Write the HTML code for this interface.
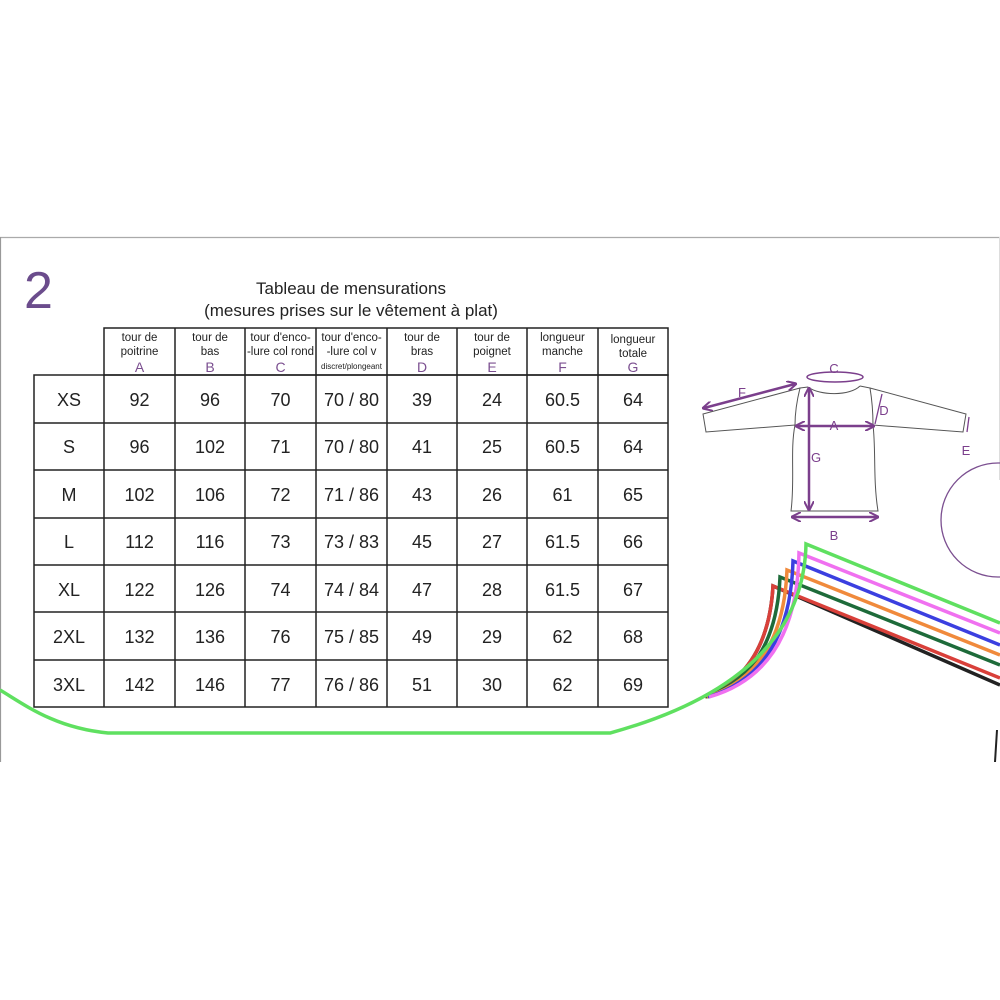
<!DOCTYPE html>
<html><head><meta charset="utf-8"><style>
html,body{margin:0;padding:0;background:#fff;}
svg{display:block;}
text{font-family:"Liberation Sans",sans-serif;}
</style></head><body>
<svg width="1000" height="1000" viewBox="0 0 1000 1000" xmlns="http://www.w3.org/2000/svg">
<defs>
<marker id="ah" viewBox="0 0 10 10" refX="8" refY="5" markerWidth="4" markerHeight="4" orient="auto-start-reverse"><path d="M0,0 L10,5 L0,10" fill="none" stroke="#7b3f8c" stroke-width="2"/></marker>
</defs>
<rect width="1000" height="1000" fill="#fff"/>
<line x1="0" y1="237.5" x2="1000" y2="237.5" stroke="#aaa" stroke-width="1.2"/>
<line x1="0.5" y1="237" x2="0.5" y2="762" stroke="#999" stroke-width="1.2"/>
<line x1="999.5" y1="237" x2="999.5" y2="480" stroke="#ddd" stroke-width="1"/>

<text x="24" y="308" font-size="52" fill="#6b4c8c">2</text>
<text x="351" y="294" font-size="17" fill="#222" text-anchor="middle">Tableau de mensurations</text>
<text x="351" y="316" font-size="17" fill="#222" text-anchor="middle">(mesures prises sur le vêtement à plat)</text>

<g fill="none" stroke-width="3.5">
<path d="M1000,685 L773,586 Q768,672 705,697" stroke="#222"/>
<path d="M1000,678 L773,586 Q768,672 705,697" stroke="#d9403a"/>
<path d="M1000,665 L780,577 Q776,672 706,697" stroke="#1e6b3a"/>
<path d="M1000,655 L787,570 Q783,672 707,697" stroke="#f08a3c"/>
<path d="M1000,645 L793,561 Q790,672 708,697" stroke="#3b3fe0"/>
<path d="M1000,633 L799,553 Q797,672 709,697" stroke="#f070f0"/>
<path d="M0,690 C25,705 55,728 108,733 L610,733 Q803,680 806,544 L1000,623" stroke="#5fe060"/>
</g>
<line x1="997" y1="730" x2="995" y2="762" stroke="#222" stroke-width="2"/>

<circle cx="998" cy="520" r="57" fill="none" stroke="#7b4f90" stroke-width="1.3"/>

<g stroke="#222" stroke-width="1.5" fill="none">
<rect x="104" y="328" width="564" height="47"/>
<rect x="34" y="375" width="634" height="332"/>
<g>
<line x1="175" y1="328" x2="175" y2="707"/><line x1="245" y1="328" x2="245" y2="707"/>
<line x1="316" y1="328" x2="316" y2="707"/><line x1="387" y1="328" x2="387" y2="707"/>
<line x1="457" y1="328" x2="457" y2="707"/><line x1="527" y1="328" x2="527" y2="707"/>
<line x1="598" y1="328" x2="598" y2="707"/><line x1="104" y1="375" x2="104" y2="707"/>
<line x1="34" y1="423" x2="668" y2="423"/><line x1="34" y1="470" x2="668" y2="470"/>
<line x1="34" y1="518" x2="668" y2="518"/><line x1="34" y1="565" x2="668" y2="565"/>
<line x1="34" y1="612" x2="668" y2="612"/><line x1="34" y1="660" x2="668" y2="660"/>
</g></g>
<g font-size="11.5" fill="#222" text-anchor="middle">
<text x="139.5" y="341">tour de</text><text x="139.5" y="355">poitrine</text>
<text x="210" y="341">tour de</text><text x="210" y="355">bas</text>
<text x="280.5" y="341">tour d'enco-</text><text x="280.5" y="355">-lure col rond</text>
<text x="351.5" y="341">tour d'enco-</text><text x="351.5" y="355">-lure col v</text>
<text x="351.5" y="369" font-size="8">discret/plongeant</text>
<text x="422" y="341">tour de</text><text x="422" y="355">bras</text>
<text x="492" y="341">tour de</text><text x="492" y="355">poignet</text>
<text x="562.5" y="341">longueur</text><text x="562.5" y="355">manche</text>
<text x="633" y="343">longueur</text><text x="633" y="357">totale</text>
</g>
<g font-size="14" fill="#7b4f90" text-anchor="middle">
<text x="139.5" y="372">A</text><text x="210" y="372">B</text><text x="280.5" y="372">C</text>
<text x="422" y="372">D</text><text x="492" y="372">E</text><text x="562.5" y="372">F</text><text x="633" y="372">G</text>
</g>
<g font-size="18" fill="#222" text-anchor="middle">
<text y="406"><tspan x="69">XS</tspan><tspan x="139.5">92</tspan><tspan x="210">96</tspan><tspan x="280.5">70</tspan><tspan x="351.5">70 / 80</tspan><tspan x="422">39</tspan><tspan x="492">24</tspan><tspan x="562.5">60.5</tspan><tspan x="633">64</tspan></text>
<text y="453"><tspan x="69">S</tspan><tspan x="139.5">96</tspan><tspan x="210">102</tspan><tspan x="280.5">71</tspan><tspan x="351.5">70 / 80</tspan><tspan x="422">41</tspan><tspan x="492">25</tspan><tspan x="562.5">60.5</tspan><tspan x="633">64</tspan></text>
<text y="501"><tspan x="69">M</tspan><tspan x="139.5">102</tspan><tspan x="210">106</tspan><tspan x="280.5">72</tspan><tspan x="351.5">71 / 86</tspan><tspan x="422">43</tspan><tspan x="492">26</tspan><tspan x="562.5">61</tspan><tspan x="633">65</tspan></text>
<text y="548"><tspan x="69">L</tspan><tspan x="139.5">112</tspan><tspan x="210">116</tspan><tspan x="280.5">73</tspan><tspan x="351.5">73 / 83</tspan><tspan x="422">45</tspan><tspan x="492">27</tspan><tspan x="562.5">61.5</tspan><tspan x="633">66</tspan></text>
<text y="596"><tspan x="69">XL</tspan><tspan x="139.5">122</tspan><tspan x="210">126</tspan><tspan x="280.5">74</tspan><tspan x="351.5">74 / 84</tspan><tspan x="422">47</tspan><tspan x="492">28</tspan><tspan x="562.5">61.5</tspan><tspan x="633">67</tspan></text>
<text y="643"><tspan x="69">2XL</tspan><tspan x="139.5">132</tspan><tspan x="210">136</tspan><tspan x="280.5">76</tspan><tspan x="351.5">75 / 85</tspan><tspan x="422">49</tspan><tspan x="492">29</tspan><tspan x="562.5">62</tspan><tspan x="633">68</tspan></text>
<text y="691"><tspan x="69">3XL</tspan><tspan x="139.5">142</tspan><tspan x="210">146</tspan><tspan x="280.5">77</tspan><tspan x="351.5">76 / 86</tspan><tspan x="422">51</tspan><tspan x="492">30</tspan><tspan x="562.5">62</tspan><tspan x="633">69</tspan></text>
</g>

<g fill="none" stroke="#555" stroke-width="1">
<path d="M808,387 C820,396 850,396 860,386"/>
<path d="M808,387 L800,388 L703,414 L706,432 L795,425 C790,450 795,480 791,511 L878,511 C873,480 876,450 873,425 L963,432 L966,414 L870,388 L860,386"/>
<path d="M800,388 C797,400 795,412 795,425"/><path d="M870,388 C872,400 873,412 873,425"/>
</g>
<g fill="none" stroke="#7b3f8c" stroke-width="2.5">
<line x1="704" y1="408" x2="795" y2="384" marker-start="url(#ah)" marker-end="url(#ah)"/>
<ellipse cx="835" cy="377" rx="28" ry="5" stroke-width="1.5"/>
<line x1="797" y1="426" x2="873" y2="426" marker-start="url(#ah)" marker-end="url(#ah)"/>
<line x1="809" y1="389" x2="809" y2="509" marker-start="url(#ah)" marker-end="url(#ah)"/>
<line x1="793" y1="517" x2="877" y2="517" marker-start="url(#ah)" marker-end="url(#ah)"/>
<line x1="882" y1="394" x2="875" y2="424" stroke-width="1.3"/>
<line x1="969" y1="417" x2="967" y2="432" stroke-width="1.3"/>
</g>
<g fill="#7b3f8c" font-size="13" text-anchor="middle">
<text x="742" y="397">F</text><text x="834" y="373">C</text><text x="834" y="430">A</text>
<text x="816" y="462">G</text><text x="834" y="540">B</text><text x="884" y="415">D</text><text x="966" y="455">E</text>
</g>
</svg>
</body></html>
